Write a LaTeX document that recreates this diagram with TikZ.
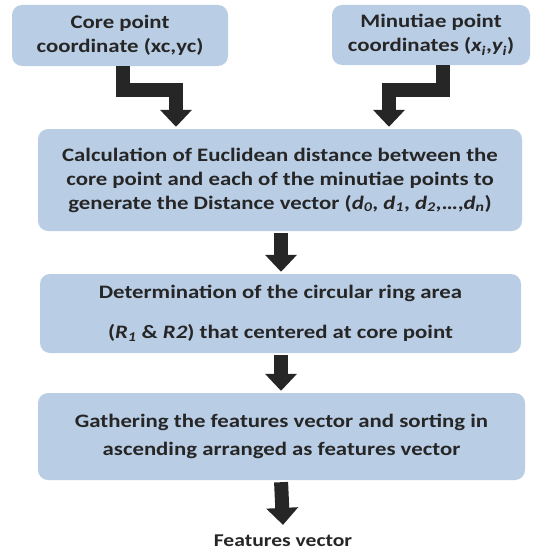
\documentclass[tikz,border=0pt]{standalone}
\usepackage{fontspec}
\setmainfont{Carlito}[FakeStretch=1.2]
\usetikzlibrary{arrows.meta,calc}
\definecolor{boxfill}{HTML}{B9CDE5}
\definecolor{txt}{HTML}{262626}
\definecolor{arr}{HTML}{262626}
\newcommand{\mysub}[1]{\textsubscript{#1}}
\begin{document}
\begin{tikzpicture}[x=1pt,y=-1pt,
  box/.style={fill=boxfill,draw=none,rounded corners=10pt,align=center,
    text=txt,font=\bfseries\fontsize{19}{24}\selectfont,inner sep=0pt},
  blockarrow/.style={draw=arr,line width=14pt,line join=miter,
    -{Triangle[width=31pt,length=17pt]}},
]
\useasboundingbox (0,0) rectangle (541,551);
\node[box,minimum width=216pt,minimum height=61pt] (b1) at (120,35.5)
  {Core point\\coordinate (xc,yc)};
\node[box,minimum width=198pt,minimum height=60pt] (b2) at (431,35)
  {Minutiae point\\coordinates (\textit{x\mysub{i}},\textit{y\mysub{i}})};
\node[box,minimum width=484pt,minimum height=102pt] (b3) at (280,180)
  {Calculation of Euclidean distance between the\\
   core point and each of the minutiae points to\\
   generate the Distance vector (\textit{d\mysub{0}}, \textit{d\mysub{1}}, \textit{d\mysub{2}},\dots,\textit{d\mysub{n}})};
\node[box,minimum width=481pt,minimum height=79pt,
  font=\bfseries\fontsize{19}{40}\selectfont] (b4) at (280.5,313.5)
  {Determination of the circular ring area\\
   (\textit{R\mysub{1}} \& \textit{R2}) that centered at core point};
\node[box,minimum width=487pt,minimum height=87pt,
  font=\bfseries\fontsize{19}{28}\selectfont] (b5) at (281.5,436.5)
  {Gathering the features vector and sorting in\\
   ascending arranged as features vector};
\node[text=txt,font=\bfseries\fontsize{18}{20}\selectfont,inner sep=0pt] (out) at (283,541)
  {Features vector};
\draw[blockarrow] ([xshift=3pt]b1.south) -- ++(0,24) -| ([xshift=-104pt,yshift=2pt]b3.north);
\draw[blockarrow] ([xshift=12pt]b2.south) -- ++(0,25) -| ([xshift=109pt,yshift=2pt]b3.north);
\draw[blockarrow,shorten <=2pt,shorten >=2pt] ([xshift=1pt]b3.south) -- ([xshift=0.5pt]b4.north);
\draw[blockarrow,shorten <=2pt,shorten >=2pt] ([xshift=0.5pt]b4.south) -- ([xshift=-0.5pt]b5.north);
\draw[blockarrow,shorten <=2pt] ([xshift=-0.5pt]b5.south) -- ([yshift=10pt]out.north);
\end{tikzpicture}
\end{document}
